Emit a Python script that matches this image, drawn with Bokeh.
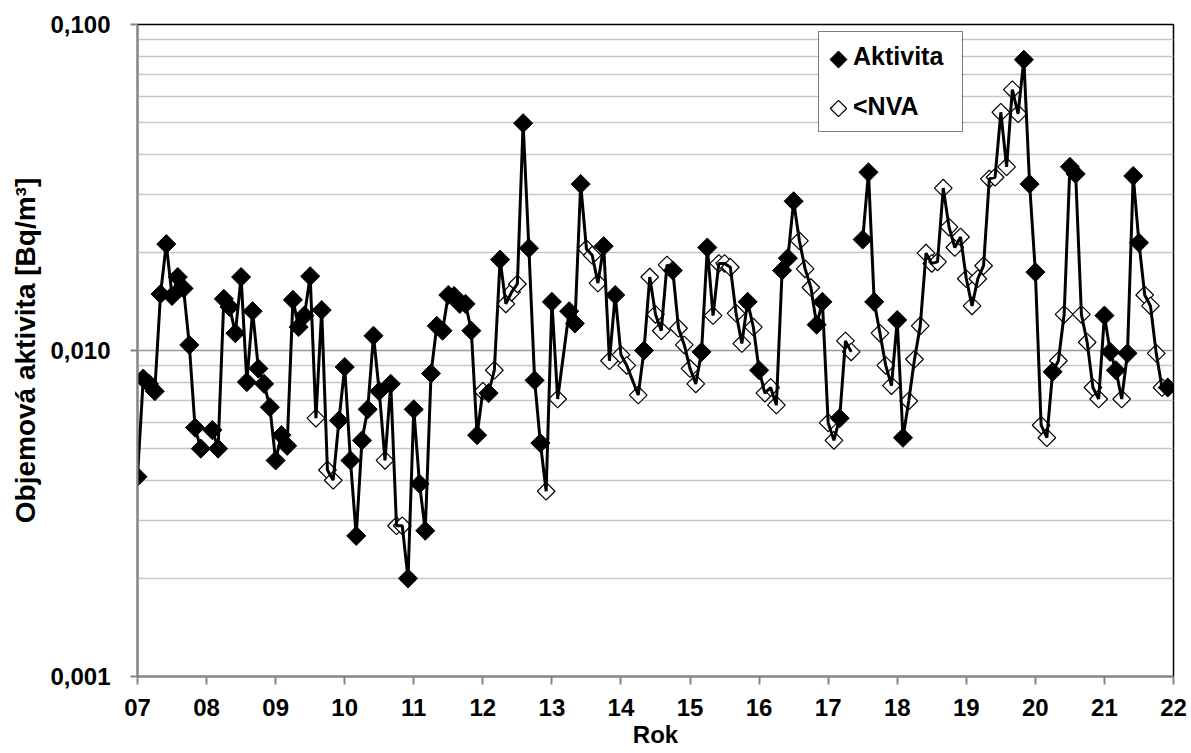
import numpy as np
from bokeh.plotting import figure
from bokeh.models import FixedTicker, Range1d, Legend, LegendItem, ColumnDataSource
from bokeh.embed import file_html
from bokeh.resources import INLINE

FONT = "Liberation Sans"

# Monthly samples, month index counted from January 2007
months = [
    0, 1, 2, 3, 4, 5, 6, 7, 8, 9, 10, 11,
    13, 14, 15, 16, 17, 18, 19, 20, 21, 22, 23,
    24, 25, 26, 27, 28, 29, 30, 31, 32, 33, 34, 35,
    36, 37, 38, 39, 40, 41, 42, 43, 44, 45, 46, 47,
    48, 49, 50, 51, 52, 53, 54, 55, 56, 57, 58, 59,
    60, 61, 62, 63, 64, 65, 66, 67, 68, 69, 70, 71,
    72, 73, 75, 76, 77, 78, 79, 80, 81, 82, 83,
    84, 85, 87, 88, 89, 90, 91, 92, 93, 94, 95,
    96, 97, 98, 99, 100, 101, 102, 103, 104, 105, 106, 107,
    108, 109, 110, 111, 112, 113, 114, 115, 116, 117, 118, 119,
    120, 121, 122, 123, 124, 126, 127, 128, 129, 130, 131,
    132, 133, 134, 135, 136, 137, 138, 139, 140, 141, 142, 143,
    144, 145, 146, 147, 148, 149, 150, 151, 152, 153, 154, 155,
    156, 157, 158, 159, 160, 161, 162, 163, 164, 165, 166, 167,
    168, 169, 170, 171, 172, 173, 174, 175, 176, 177, 178, 179,
]

# Volume activity [Bq/m3]
activity = [
    0.0041, 0.0082, 0.0079, 0.0075, 0.0149, 0.0212, 0.0147, 0.0168, 0.0155, 0.0104, 0.0058, 0.0050,
    0.0057, 0.0050, 0.0144, 0.0136, 0.0113, 0.0168, 0.0080, 0.0132, 0.0088, 0.0079, 0.0067,
    0.0046, 0.0055, 0.0051, 0.0143, 0.0118, 0.0128, 0.0169, 0.0062, 0.0133, 0.0043, 0.0040, 0.0061,
    0.0089, 0.0046, 0.0027, 0.0053, 0.0066, 0.0111, 0.0075, 0.0046, 0.0079, 0.0029, 0.0029, 0.0020,
    0.0066, 0.0039, 0.0028, 0.0085, 0.0119, 0.0115, 0.0148, 0.0147, 0.0139, 0.0139, 0.0115, 0.0055,
    0.0075, 0.0074, 0.0087, 0.0190, 0.0139, 0.0151, 0.0160, 0.0498, 0.0206, 0.0081, 0.0052, 0.0037,
    0.0141, 0.0071, 0.0132, 0.0121, 0.0324, 0.0205, 0.0196, 0.0161, 0.0209, 0.0093, 0.0148,
    0.0097, 0.0090, 0.0073, 0.0100, 0.0168, 0.0129, 0.0115, 0.0183, 0.0176, 0.0117, 0.0104,
    0.0088, 0.0079, 0.0099, 0.0207, 0.0128, 0.0185, 0.0185, 0.0180, 0.0130, 0.0105, 0.0141, 0.0118,
    0.0087, 0.0074, 0.0077, 0.0068, 0.0176, 0.0192, 0.0287, 0.0217, 0.0178, 0.0156, 0.0120, 0.0141,
    0.0060, 0.0053, 0.0062, 0.0107, 0.0099, 0.0219, 0.0352, 0.0141, 0.0113, 0.0090, 0.0078,
    0.0124, 0.0054, 0.0070, 0.0094, 0.0119, 0.0199, 0.0185, 0.0187, 0.0315, 0.0239, 0.0207, 0.0223,
    0.0166, 0.0137, 0.0166, 0.0182, 0.0336, 0.0340, 0.0538, 0.0366, 0.0631, 0.0532, 0.0780, 0.0324,
    0.0174, 0.0059, 0.0054, 0.0086, 0.0093, 0.0129, 0.0366, 0.0348, 0.0129, 0.0106, 0.0077, 0.0071,
    0.0128, 0.0099, 0.0087, 0.0071, 0.0098, 0.0343, 0.0214, 0.0148, 0.0137, 0.0098, 0.0077, 0.0077,
]

# 1 = result below the detection limit (<NVA), 0 = measured activity
below_nva = [
    0, 0, 0, 0, 0, 0, 0, 0, 0, 0, 0, 0,
    0, 0, 0, 0, 0, 0, 0, 0, 0, 0, 0,
    0, 0, 0, 0, 0, 0, 0, 1, 0, 1, 1, 0,
    0, 0, 0, 0, 0, 0, 0, 1, 0, 1, 1, 0,
    0, 0, 0, 0, 0, 0, 0, 0, 0, 0, 0, 0,
    1, 0, 1, 0, 1, 1, 1, 0, 0, 0, 0, 1,
    0, 1, 0, 0, 0, 1, 1, 1, 0, 1, 0,
    1, 1, 1, 0, 1, 1, 1, 1, 0, 1, 1,
    1, 1, 0, 0, 1, 1, 1, 1, 1, 1, 0, 1,
    0, 1, 1, 1, 0, 0, 0, 1, 1, 1, 0, 0,
    1, 1, 0, 1, 1, 0, 0, 0, 1, 1, 1,
    0, 0, 1, 1, 1, 1, 1, 1, 1, 1, 1, 1,
    1, 1, 1, 1, 1, 1, 1, 1, 1, 1, 0, 0,
    0, 1, 1, 0, 1, 1, 0, 0, 1, 1, 1, 1,
    0, 0, 0, 1, 0, 0, 0, 1, 1, 1, 1, 0,
]

# Months without a sample break the connecting line
missing_months = [12, 125]

year_ticks = list(range(7, 23))
year_labels = ["%02d" % y for y in year_ticks]
y_ticks = [0.001, 0.01, 0.1]
y_labels = ["0,001", "0,010", "0,100"]
series_names = ["Aktivita", "<NVA"]

months_arr = np.array(months, dtype=float)
act_arr = np.array(activity, dtype=float)
flag_arr = np.array(below_nva, dtype=bool)
rok = 7 + months_arr / 12.0

# connecting line, with NaN where a month has no sample
line_x, line_y = [], []
prev = None
for m, v in zip(months_arr, act_arr):
    if prev is not None and any(prev < mm < m for mm in missing_months):
        line_x.append(np.nan)
        line_y.append(np.nan)
    line_x.append(7 + m / 12.0)
    line_y.append(v)
    prev = m

W, H = 1191, 753
BL, BR, BT, BB = 137, 18, 24, 77
X0, X1, Y0, Y1 = 7, 22, 0.001, 0.1

p = figure(
    width=W, height=H, output_backend="svg", toolbar_location=None,
    y_axis_type="log", x_range=Range1d(X0, X1), y_range=Range1d(Y0, Y1),
    min_border_left=BL, min_border_right=BR, min_border_top=BT, min_border_bottom=BB,
)
p.background_fill_color = "white"
p.border_fill_color = "white"
p.outline_line_color = "black"
p.outline_line_width = 1.5

# horizontal grid: decades plus 2..9 subdivisions
p.xgrid.visible = False
p.ygrid.ticker = FixedTicker(ticks=y_ticks,
                             minor_ticks=[k * 10.0 ** e for e in (-3, -2) for k in range(2, 10)])
p.ygrid.grid_line_color = "#9a9a9a"
p.ygrid.grid_line_width = 1.5
p.ygrid.minor_grid_line_color = "#c6c6c6"
p.ygrid.minor_grid_line_width = 1.5

# axes
for ax in (p.xaxis[0], p.yaxis[0]):
    ax.axis_line_color = "#868686"
    ax.axis_line_width = 2
    ax.major_tick_line_color = "#868686"
    ax.major_tick_line_width = 2
    ax.major_tick_in = 0
    ax.minor_tick_in = 0
    ax.minor_tick_out = 0
    ax.major_label_text_font = FONT
    ax.major_label_text_font_style = "bold"
    ax.major_label_text_font_size = "24px"
    ax.major_label_text_color = "black"
    ax.axis_label_text_font = FONT
    ax.axis_label_text_font_style = "bold"
    ax.axis_label_text_color = "black"

p.xaxis.ticker = FixedTicker(ticks=year_ticks)
p.xaxis.major_label_overrides = {t: l for t, l in zip(year_ticks, year_labels)}
p.xaxis.major_tick_out = 8
p.xaxis.major_label_standoff = 14
p.xaxis.axis_label = "Rok"
p.xaxis.axis_label_text_font_size = "24px"
p.xaxis.axis_label_standoff = 2
p.xaxis.major_label_text_line_height = 1.0
p.xaxis.axis_label_text_line_height = 1.0

p.yaxis.ticker = FixedTicker(ticks=y_ticks)
p.yaxis.major_label_overrides = {t: l for t, l in zip(y_ticks, y_labels)}
p.yaxis.major_tick_out = 7
p.yaxis.major_label_standoff = 20
p.yaxis.axis_label = "Objemová aktivita [Bq/m³]"
p.yaxis.axis_label_text_font_size = "28px"
p.yaxis.axis_label_standoff = 6

src_open = ColumnDataSource(dict(x=rok[flag_arr], y=act_arr[flag_arr]))
src_fill = ColumnDataSource(dict(x=rok[~flag_arr], y=act_arr[~flag_arr]))

OPEN_STYLE = dict(marker="square", angle=np.pi / 4, size=12.5,
                  fill_color="white", line_color="black", line_width=1.2)
FILL_STYLE = dict(marker="square", angle=np.pi / 4, size=13.5,
                  fill_color="black", line_color="black", line_width=1)

p.scatter("x", "y", source=src_open, **OPEN_STYLE)
p.line(line_x, line_y, line_color="black", line_width=3)
p.scatter("x", "y", source=src_fill, **FILL_STYLE)

# ---- legend ----
# Bokeh draws legend markers unrotated, so the legend itself only supplies the
# frame and the labels (transparent body); its white body and the diamond keys
# are drawn underneath it as glyphs.
key_fill = p.scatter([], [], marker="square", fill_alpha=0, line_alpha=0)
key_open = p.scatter([], [], marker="square", fill_alpha=0, line_alpha=0)

leg_x, leg_y = 681, 544          # bottom-left corner, frame pixels
pad, glyph_w, row_h, gap, stand, lab_w = 10, 20, 28, 21, 4, 99
leg_w = 2 * pad + glyph_w + stand + lab_w
leg_h = 2 * pad + 2 * row_h + gap

frame_w = W - BL - BR
frame_h = H - BT - BB
ly0, ly1 = np.log10(Y0), np.log10(Y1)


def fx(px):
    return X0 + px / frame_w * (X1 - X0)


def fy(py):
    return 10 ** (ly0 + py / frame_h * (ly1 - ly0))


p.quad(left=[fx(leg_x)], right=[fx(leg_x + leg_w)], bottom=[fy(leg_y)], top=[fy(leg_y + leg_h)],
       fill_color="white", line_alpha=0)

key_px = leg_x + pad + glyph_w / 2
key_py = [leg_y + leg_h - pad - row_h / 2 - i * (row_h + gap) for i in range(2)]
p.scatter([fx(key_px)], [fy(key_py[0])], **dict(FILL_STYLE, size=12))
p.scatter([fx(key_px)], [fy(key_py[1])], **dict(OPEN_STYLE, size=11.5))

legend = Legend(
    items=[LegendItem(label=series_names[0], renderers=[key_fill]),
           LegendItem(label=series_names[1], renderers=[key_open])],
    location=(leg_x, leg_y),
    border_line_color="black", border_line_width=1.2,
    background_fill_alpha=0,
    label_text_font=FONT, label_text_font_style="bold", label_text_font_size="25px",
    label_text_color="black",
    padding=pad, spacing=gap, glyph_width=glyph_w, glyph_height=row_h, label_height=row_h,
    label_standoff=stand, label_width=lab_w, margin=0,
)
p.add_layout(legend, "center")

open("out.html", "w").write(file_html(p, INLINE))
